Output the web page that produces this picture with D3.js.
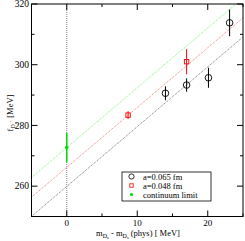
<!DOCTYPE html>
<html><head><meta charset="utf-8">
<script src="https://cdn.jsdelivr.net/npm/d3@7"></script>
<style>body{margin:0;background:#fff}svg{display:block}text{font-family:"Liberation Serif","DejaVu Serif",serif}</style>
</head><body><svg id="c" width="245" height="241"></svg>
<script>
const xTicks = [0, 10, 20];
const xMinor = [-5, 5, 15, 25];
const yTicks = [260, 280, 300, 320];
const yMinor = [250, 270, 290, 310];
// a=0.065 fm
const a065x = [14.0, 17.0, 20.1, 23.1];
const a065y = [290.6, 293.3, 295.7, 313.8];
const a065e = [2.3, 2.2, 3.3, 4.4];
// a=0.048 fm
const a048x = [8.7, 17.0];
const a048y = [283.4, 301.0];
const a048e = [1.3, 4.1];
// continuum limit
const contX = [0];
const contY = [272.7];
const contE = [4.8];
// fit lines: intercept at x=0 and slope
const fitNames = ["a065", "a048", "cont"];
const fitIntercept = [259.9, 266.2, 272.7];
const fitSlope = [1.97, 1.97, 1.97];
const fitColor = ["#777777", "#f08080", "#80f080"];
const legendLabels = ["a=0.065 fm", "a=0.048 fm", "continuum limit"];

const svg = d3.select("#c");
const L = 31.5, R = 243, T = 4, B = 216.5;
const x = d3.scaleLinear().domain([-5, 25]).range([L, R]);
const y = d3.scaleLinear().domain([250, 320]).range([B, T]);

const defs = svg.append("defs");
defs.append("clipPath").attr("id","clip").append("rect").attr("x",L).attr("y",T).attr("width",R-L).attr("height",B-T);

const g = svg.append("g").attr("clip-path","url(#clip)");
g.append("line").attr("x1",x(0)).attr("x2",x(0)).attr("y1",T).attr("y2",B)
  .attr("stroke","#888").attr("stroke-width",1).attr("stroke-dasharray","1,1");
fitNames.forEach((n,i)=>{
  g.append("line").attr("x1",x(-5)).attr("y1",y(fitIntercept[i]-5*fitSlope[i]))
    .attr("x2",x(25)).attr("y2",y(fitIntercept[i]+25*fitSlope[i]))
    .attr("stroke",fitColor[i]).attr("stroke-width",1).attr("stroke-dasharray","1,1");
});

svg.append("rect").attr("x",L).attr("y",T).attr("width",R-L).attr("height",B-T)
  .attr("fill","none").attr("stroke","#000").attr("stroke-width",1);

const tk = svg.append("g").attr("stroke","#000").attr("stroke-width",1);
xTicks.forEach(v=>{
  tk.append("line").attr("x1",x(v)).attr("x2",x(v)).attr("y1",B).attr("y2",B-6);
  tk.append("line").attr("x1",x(v)).attr("x2",x(v)).attr("y1",T).attr("y2",T+6);
});
xMinor.forEach(v=>{
  tk.append("line").attr("x1",x(v)).attr("x2",x(v)).attr("y1",B).attr("y2",B-3);
  tk.append("line").attr("x1",x(v)).attr("x2",x(v)).attr("y1",T).attr("y2",T+3);
});
yTicks.forEach(v=>{
  tk.append("line").attr("x1",L).attr("x2",L+6).attr("y1",y(v)).attr("y2",y(v));
  tk.append("line").attr("x1",R).attr("x2",R-6).attr("y1",y(v)).attr("y2",y(v));
});
yMinor.forEach(v=>{
  tk.append("line").attr("x1",L).attr("x2",L+3).attr("y1",y(v)).attr("y2",y(v));
  tk.append("line").attr("x1",R).attr("x2",R-3).attr("y1",y(v)).attr("y2",y(v));
});
xTicks.forEach(v=>{
  svg.append("text").attr("x",x(v)).attr("y",225.5).attr("text-anchor","middle")
    .attr("font-size",9).text(v);
});
yTicks.forEach(v=>{
  svg.append("text").attr("x",29).attr("y",y(v)+3.3).attr("text-anchor","end")
    .attr("font-size",9.5).text(v);
});

const xl = svg.append("text").attr("x",138).attr("y",235.5).attr("text-anchor","middle").attr("font-size",8.5);
xl.append("tspan").text("m");
xl.append("tspan").attr("font-size",6).attr("dy",2).text("D");
xl.append("tspan").attr("font-size",4.5).attr("dy",1.5).text("s");
xl.append("tspan").attr("dy",-3.5).text(" - m");
xl.append("tspan").attr("font-size",6).attr("dy",2).text("D");
xl.append("tspan").attr("font-size",4.5).attr("dy",1.5).text("s");
xl.append("tspan").attr("dy",-3.5).text(" (phys) [ MeV]");

const yl = svg.append("text").attr("transform","translate(13,113) rotate(-90)").attr("text-anchor","middle").attr("font-size",8.5);
yl.append("tspan").text("f");
yl.append("tspan").attr("font-size",6).attr("dy",2).text("D");
yl.append("tspan").attr("font-size",4.5).attr("dy",1.5).text("s");
yl.append("tspan").attr("font-size",4.5).attr("dy",-5).text("+");
yl.append("tspan").attr("dy",1.5).text(" [MeV]");

const pts = svg.append("g");
function errbars(xs, ys, es, col, w){
  xs.forEach((xv,i)=>{
    pts.append("line").attr("x1",x(xv)).attr("x2",x(xv)).attr("y1",y(ys[i]-es[i])).attr("y2",y(ys[i]+es[i]))
      .attr("stroke",col).attr("stroke-width",w);
  });
}
errbars(a065x,a065y,a065e,"#000",1);
a065x.forEach((xv,i)=>{
  pts.append("circle").attr("cx",x(xv)).attr("cy",y(a065y[i])).attr("r",3.3)
    .attr("fill","none").attr("stroke","#000").attr("stroke-width",0.9);
});
errbars(a048x,a048y,a048e,"#ff0000",1);
a048x.forEach((xv,i)=>{
  pts.append("rect").attr("x",x(xv)-2.2).attr("y",y(a048y[i])-2.2).attr("width",4.4).attr("height",4.4)
    .attr("fill","none").attr("stroke","#ff0000").attr("stroke-width",0.9);
});
errbars(contX,contY,contE,"#00dd00",1.5);
contX.forEach((xv,i)=>{
  pts.append("circle").attr("cx",x(xv)).attr("cy",y(contY[i])).attr("r",1.8).attr("fill","#00dd00");
});

const lg = svg.append("g");
lg.append("rect").attr("x",122).attr("y",172).attr("width",89).attr("height",29)
  .attr("fill","#fff").attr("stroke","#000").attr("stroke-width",0.8);
const rowY = [176.5, 185.5, 194.5];
lg.append("circle").attr("cx",131.5).attr("cy",rowY[0]).attr("r",2.6).attr("fill","none").attr("stroke","#000").attr("stroke-width",0.8);
lg.append("rect").attr("x",129.8).attr("y",rowY[1]-1.7).attr("width",3.4).attr("height",3.4).attr("fill","none").attr("stroke","#ff0000").attr("stroke-width",0.8);
lg.append("circle").attr("cx",131.5).attr("cy",rowY[2]).attr("r",1.6).attr("fill","#00dd00");
legendLabels.forEach((t,i)=>{
  lg.append("text").attr("x",143).attr("y",rowY[i]+3).attr("font-size",8.5).text(t);
});
</script></body></html>
